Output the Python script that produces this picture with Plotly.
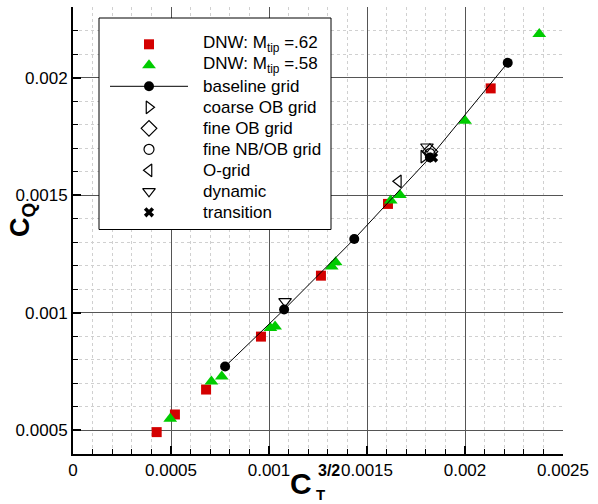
import plotly.graph_objects as go

# DNW: M_tip = .62 (red squares)
dnw62_x = [0.000427, 0.000520, 0.000679, 0.000959, 0.001265, 0.001607, 0.002131]
dnw62_y = [0.000493, 0.000568, 0.000674, 0.000899, 0.001158, 0.001463, 0.001954]

# DNW: M_tip = .58 (green triangles)
dnw58_x = [0.000496, 0.000706, 0.000759, 0.001007, 0.001031, 0.001320, 0.001340,
           0.001621, 0.001668, 0.002000, 0.002379]
dnw58_y = [0.000550, 0.000708, 0.000729, 0.000936, 0.000942, 0.001197, 0.001215,
           0.001477, 0.001501, 0.001817, 0.002185]

# baseline grid
base_x = [0.000776, 0.001077, 0.001435, 0.001821, 0.002218]
base_y = [0.000772, 0.001014, 0.001314, 0.001660, 0.002063]

coarse_x = [0.001790]
coarse_y = [0.001664]
fineob_x = [0.001821]
fineob_y = [0.001685]
finenb_x = [0.001821]
finenb_y = [0.001677]
ogrid_x = [0.001660]
ogrid_y = [0.001559]
dyn_x = [0.001082, 0.001806]
dyn_y = [0.001049, 0.001706]
trans_x = [0.001837]
trans_y = [0.001660]

xticks = [0, 0.0005, 0.001, 0.0015, 0.002, 0.0025]
xtick_labels = ["0", "0.0005", "0.001", "0.0015", "0.002", "0.0025"]
yticks = [0.0005, 0.001, 0.0015, 0.002]
ytick_labels = ["0.0005", "0.001", "0.0015", "0.002"]

legend_labels = ["DNW: M<sub>tip</sub> =.62", "DNW: M<sub>tip</sub> =.58", "baseline grid",
                 "coarse OB grid", "fine OB grid", "fine NB/OB grid", "O-grid",
                 "dynamic", "transition"]

FONT = "Liberation Sans, Arial, Helvetica, sans-serif"

RED = "#d40000"
GREEN = "#00cc00"
OPEN_LINE = dict(width=1.2, color="black")

styles = [
    dict(symbol="square", size=10, color=RED),
    dict(symbol="triangle-up", size=12, color=GREEN),
    dict(symbol="circle", size=10, color="black"),
    dict(symbol="triangle-right-open", size=11, color="black", line=OPEN_LINE),
    dict(symbol="diamond-open", size=12, color="black", line=OPEN_LINE),
    dict(symbol="circle-open", size=10, color="black", line=OPEN_LINE),
    dict(symbol="triangle-left-open", size=11, color="black", line=OPEN_LINE),
    dict(symbol="triangle-down-open", size=11, color="black", line=OPEN_LINE),
    dict(symbol="x", size=9, color="black"),
]

fig = go.Figure()
series = [(dnw62_x, dnw62_y), (dnw58_x, dnw58_y), (base_x, base_y), (coarse_x, coarse_y),
          (fineob_x, fineob_y), (finenb_x, finenb_y), (ogrid_x, ogrid_y), (dyn_x, dyn_y),
          (trans_x, trans_y)]
for i, ((sx, sy), st) in enumerate(zip(series, styles)):
    fig.add_trace(go.Scatter(
        x=sx, y=sy, mode="lines+markers" if i == 2 else "markers",
        name=legend_labels[i], showlegend=False,
        line=dict(color="black", width=1), marker=st))

# ---- custom legend on an overlay axis measured in pixels ----
W, H = 598, 504
PX_L, PX_R, PX_T, PX_B = 73, 563, 7, 454
box_l, box_r, box_t, box_b = 99, 331, 18, 229.5
row0, row_dy = 44.3, 21.0
mark_x, text_x = 149, 201


def px2paper(px, py):
    return (px - PX_L) / (PX_R - PX_L), (PX_B - py) / (PX_B - PX_T)


fig.add_trace(go.Scatter(
    x=[box_l, box_r, box_r, box_l, box_l], y=[box_t, box_t, box_b, box_b, box_t],
    mode="lines", fill="toself", fillcolor="white", line=dict(color="black", width=1),
    xaxis="x2", yaxis="y2", showlegend=False, hoverinfo="skip"))
fig.add_trace(go.Scatter(
    x=[110, 188], y=[row0 + 2 * row_dy] * 2, mode="lines",
    line=dict(color="black", width=1), xaxis="x2", yaxis="y2",
    showlegend=False, hoverinfo="skip"))
for i, st in enumerate(styles):
    ry = row0 + i * row_dy
    fig.add_trace(go.Scatter(x=[mark_x], y=[ry], mode="markers", marker=st,
                             xaxis="x2", yaxis="y2", showlegend=False, hoverinfo="skip"))
    fig.add_annotation(x=text_x, y=ry, xref="x2", yref="y2", text=legend_labels[i],
                       showarrow=False, xanchor="left", yanchor="middle",
                       font=dict(family=FONT, size=17, color="black"))

axis_common = dict(
    showline=True, linecolor="black", linewidth=2,
    ticks="inside", ticklen=8, tickwidth=2, tickcolor="black",
    showgrid=True, gridcolor="#555555", gridwidth=1,
    zeroline=False, automargin=False,
    tickfont=dict(family=FONT, size=17, color="black"),
    minor=dict(ticks="inside", ticklen=5, tickwidth=1, tickcolor="black",
               showgrid=True, gridcolor="#d0d0d0", griddash="dot", gridwidth=1),
)

fig.update_xaxes(range=[0, 0.0025], tickvals=xticks, ticktext=xtick_labels,
                 minor_dtick=0.0001, **axis_common)
fig.update_yaxes(range=[0.0004, 0.0023], tickvals=yticks, ticktext=ytick_labels,
                 minor_dtick=0.0001, **axis_common)

fig.update_layout(
    xaxis2=dict(overlaying="x", range=[PX_L, PX_R], visible=False, fixedrange=True),
    yaxis2=dict(overlaying="y", range=[PX_B, PX_T], visible=False, fixedrange=True),
)


# axis titles (stacked sub/superscript on x title), placed in paper coords
def title_ann(px, py, text, size, xanchor="center", angle=0):
    ax, ay = px2paper(px, py)
    fig.add_annotation(x=ax, y=ay, xref="paper", yref="paper", text=text,
                       showarrow=False, xanchor=xanchor, yanchor="middle",
                       textangle=angle,
                       font=dict(family=FONT, size=size, color="black"))


title_ann(301, 484, "<b>C</b>", 30)
title_ann(314, 494, "<b>T</b>", 15, xanchor="left")
title_ann(316, 470, "<b>3/2</b>", 16, xanchor="left")
title_ann(22, 220, "<b>C<sub>Q</sub></b>", 27, angle=-90)

fig.update_layout(
    width=W, height=H,
    margin=dict(l=PX_L, r=W - PX_R, t=PX_T, b=H - PX_B),
    paper_bgcolor="white", plot_bgcolor="white",
    font=dict(family=FONT, size=17, color="black"),
    showlegend=False,
)

fig.write_html("out.html", config={"displayModeBar": False},
               post_script="document.body.style.margin='0px';document.body.style.padding='0px';")
